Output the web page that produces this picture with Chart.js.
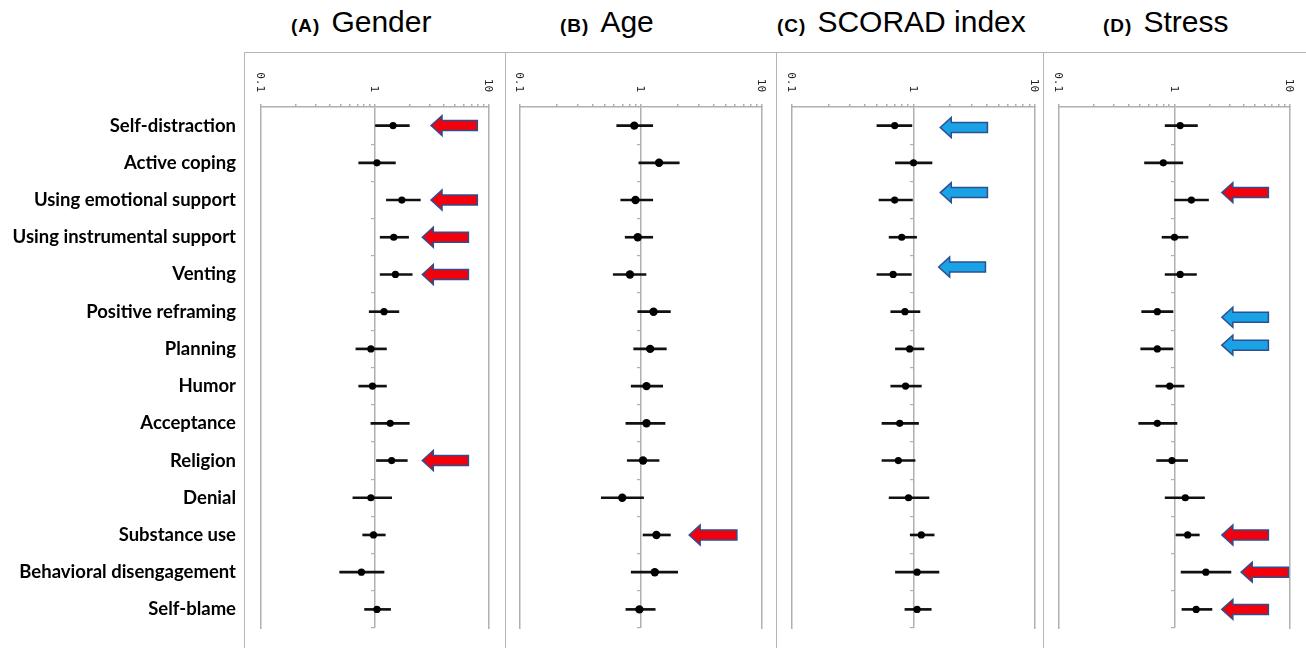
<!DOCTYPE html>
<html>
<head>
<meta charset="utf-8">
<script src="https://cdn.jsdelivr.net/npm/chart.js@4"></script>
<style>
  html, body { margin: 0; padding: 0; background: #fff; }
  body { width: 1306px; height: 648px; position: relative; overflow: hidden; }
  .frame { position: absolute; top: 52px; height: 596px; border-left: 1.5px solid #b5b5b5; border-top: 1.5px solid #b5b5b5; box-sizing: border-box; }
  .cv { position: absolute; top: 0; }
  .title { position: absolute; top: 7px; line-height: 30px; font-family: "Liberation Sans", Arial, sans-serif; color: #000; white-space: nowrap; }
  .title b { font-size: 19px; letter-spacing: 1px; margin-right: 11px; }
  .title span { font-size: 30px; }
</style>
</head>
<body>
<div class="frame" style="left:244px;width:261px"></div>
<div class="frame" style="left:505px;width:271px"></div>
<div class="frame" style="left:776px;width:267px"></div>
<div class="frame" style="left:1043px;width:263px"></div>

<div class="title" style="left:291px"><b>(A)</b><span>Gender</span></div>
<div class="title" style="left:560px"><b>(B)</b><span>Age</span></div>
<div class="title" style="left:777px"><b>(C)</b><span>SCORAD index</span></div>
<div class="title" style="left:1103px"><b>(D)</b><span>Stress</span></div>

<canvas id="cA" class="cv" style="left:0px" width="505" height="648"></canvas>
<canvas id="cB" class="cv" style="left:505px" width="271" height="648"></canvas>
<canvas id="cC" class="cv" style="left:776px" width="267" height="648"></canvas>
<canvas id="cD" class="cv" style="left:1043px" width="263" height="648"></canvas>

<script>
const categories = ['Self-distraction', 'Active coping', 'Using emotional support', 'Using instrumental support',
  'Venting', 'Positive reframing', 'Planning', 'Humor', 'Acceptance', 'Religion', 'Denial',
  'Substance use', 'Behavioral disengagement', 'Self-blame'];

const xTickValues = [0.1, 0.2, 0.3, 0.4, 0.5, 0.6, 0.7, 0.8, 0.9, 1, 2, 3, 4, 5, 6, 7, 8, 9, 10];
const xTickLabels = [0.1, 1, 10];

// (A) Gender
const orA = [1.44, 1.04, 1.72, 1.46, 1.51, 1.20, 0.92, 0.95, 1.36, 1.40, 0.92, 0.97, 0.76, 1.04];
const loA = [1.01, 0.72, 1.26, 1.11, 1.11, 0.89, 0.68, 0.72, 0.92, 1.03, 0.64, 0.78, 0.49, 0.81];
const hiA = [2.00, 1.51, 2.50, 1.97, 2.12, 1.62, 1.26, 1.26, 2.00, 1.92, 1.40, 1.23, 1.20, 1.37];

// (B) Age
const orB = [0.88, 1.41, 0.90, 0.94, 0.81, 1.27, 1.19, 1.11, 1.11, 1.04, 0.70, 1.34, 1.30, 0.97];
const loB = [0.63, 0.96, 0.68, 0.74, 0.59, 0.94, 0.87, 0.83, 0.75, 0.77, 0.47, 1.04, 0.83, 0.75];
const hiB = [1.25, 2.07, 1.25, 1.25, 1.10, 1.75, 1.62, 1.51, 1.58, 1.41, 1.05, 1.75, 2.01, 1.31];

// (C) SCORAD index
const orC = [0.70, 1.00, 0.70, 0.80, 0.68, 0.85, 0.93, 0.86, 0.77, 0.75, 0.91, 1.16, 1.07, 1.07];
const loC = [0.50, 0.71, 0.52, 0.63, 0.50, 0.65, 0.71, 0.65, 0.55, 0.55, 0.63, 0.94, 0.71, 0.85];
const hiC = [0.97, 1.42, 0.98, 1.06, 0.96, 1.13, 1.22, 1.16, 1.10, 1.03, 1.34, 1.48, 1.62, 1.40];

// (D) Stress
const orD = [1.12, 0.80, 1.40, 1.00, 1.12, 0.71, 0.71, 0.91, 0.71, 0.95, 1.24, 1.30, 1.87, 1.54];
const loD = [0.83, 0.55, 1.00, 0.78, 0.83, 0.52, 0.51, 0.69, 0.49, 0.70, 0.83, 1.03, 1.14, 1.16];
const hiD = [1.58, 1.18, 1.97, 1.31, 1.55, 0.97, 0.97, 1.21, 1.05, 1.30, 1.82, 1.64, 3.08, 2.11];

// highlight arrows: row, head value, tail value, direction of the association
const arrowRowA = [0, 2, 3, 4, 9];
const arrowFromA = [3.1, 3.1, 2.6, 2.6, 2.6];
const arrowToA = [7.9, 7.9, 6.6, 6.6, 6.6];
const arrowKindA = ['pos', 'pos', 'pos', 'pos', 'pos'];

const arrowRowB = [11];
const arrowFromB = [2.5];
const arrowToB = [6.2];
const arrowKindB = ['pos'];

const arrowRowC = [0.05, 1.8, 3.8];
const arrowFromC = [1.66, 1.66, 1.61];
const arrowToC = [4.06, 4.06, 3.91];
const arrowKindC = ['neg', 'neg', 'neg'];

const arrowRowD = [1.8, 5.15, 5.9, 11, 12, 13];
const arrowFromD = [2.57, 2.57, 2.57, 2.57, 3.78, 2.57];
const arrowToD = [6.5, 6.5, 6.5, 6.5, 9.7, 6.5];
const arrowKindD = ['pos', 'neg', 'neg', 'pos', 'pos', 'pos'];

const GRAY = '#b0b0b0';

function decor(rows, from, to, kind) {
  return {
    id: 'decor',
    afterDatasetsDraw(chart) {
      const {ctx, scales: {x, y}} = chart;
      rows.forEach((row, i) => {
        const xh = x.getPixelForValue(from[i]);
        const xt = x.getPixelForValue(to[i]);
        const yc = y.getPixelForValue(row);
        const head = 11, bh = 5, hh = 10;
        ctx.save();
        ctx.beginPath();
        ctx.moveTo(xh, yc);
        ctx.lineTo(xh + head, yc - hh);
        ctx.lineTo(xh + head, yc - bh);
        ctx.lineTo(xt, yc - bh);
        ctx.lineTo(xt, yc + bh);
        ctx.lineTo(xh + head, yc + bh);
        ctx.lineTo(xh + head, yc + hh);
        ctx.closePath();
        ctx.fillStyle = kind[i] === 'pos' ? '#f2000c' : '#19a3e6';
        ctx.fill();
        ctx.lineWidth = 1.5;
        ctx.strokeStyle = '#2e4f8f';
        ctx.stroke();
        ctx.restore();
      });
    },
    afterDraw(chart) {
      // log tick labels, turned clockwise and ending just above the axis
      const {ctx, scales: {x}} = chart;
      ctx.save();
      ctx.font = '11px "DejaVu Sans Mono", monospace';
      ctx.fillStyle = '#222';
      ctx.textAlign = 'right';
      ctx.textBaseline = 'middle';
      xTickLabels.forEach(v => {
        ctx.save();
        ctx.translate(x.getPixelForValue(v) - 1, x.bottom - 15);
        ctx.rotate(Math.PI / 2);
        ctx.fillText(String(v), 0, 0);
        ctx.restore();
      });
      ctx.restore();
    }
  };
}

function makePanel(id, or, lo, hi, arrows, leftW, rightPad, radius, showLabels) {
  const ctx = document.getElementById(id).getContext('2d');
  return new Chart(ctx, {
    type: 'bar',
    data: {
      labels: categories,
      datasets: [
        {
          type: 'line', indexAxis: 'y', data: or, showLine: false, order: 0,
          pointRadius: radius, pointBackgroundColor: '#000', pointBorderWidth: 0
        },
        {
          type: 'bar', indexAxis: 'y', data: lo.map((v, i) => [v, hi[i]]), order: 1,
          backgroundColor: '#111', barThickness: 2, borderWidth: 0
        }
      ]
    },
    options: {
      indexAxis: 'y',
      responsive: false,
      animation: false,
      layout: { padding: { left: 0, right: rightPad, top: 0, bottom: 20 } },
      plugins: { legend: { display: false }, tooltip: { enabled: false } },
      scales: {
        x: {
          type: 'logarithmic', position: 'top', min: 0.1, max: 10,
          afterBuildTicks: s => { s.ticks = xTickValues.map(v => ({ value: v })); },
          afterFit: s => { s.height = 107; },
          ticks: { display: false },
          border: { color: GRAY, width: 1.5 },
          grid: {
            color: c => (c.tick && c.tick.value === 1 ? GRAY : 'rgba(0,0,0,0)'),
            lineWidth: 1.5, tickColor: GRAY, tickLength: 3
          }
        },
        y: {
          type: 'category', position: 'left', offset: true,
          afterFit: s => { s.width = leftW; },
          ticks: {
            display: showLabels, padding: 0, color: '#000',
            font: { family: 'Lato', weight: 'bold', size: 18.5 }
          },
          border: { color: GRAY, width: 1.5 },
          grid: { drawOnChartArea: false, drawTicks: true, tickLength: 25, tickColor: 'rgba(0,0,0,0)', color: 'rgba(0,0,0,0)' }
        },
        yR: {
          type: 'category', position: 'right', offset: true,
          afterFit: s => { s.width = 0; },
          ticks: { display: false },
          border: { color: GRAY, width: 1.5 },
          grid: { display: false }
        },
        yMid: {
          type: 'category', position: { x: 1 }, offset: true,
          afterFit: s => { s.width = 0; },
          ticks: { display: false },
          border: { display: false },
          grid: { offset: true, drawOnChartArea: false, tickLength: 4, color: GRAY, lineWidth: 1.2 }
        }
      }
    },
    plugins: [decor(arrows[0], arrows[1], arrows[2], arrows[3])]
  });
}

makePanel('cA', orA, loA, hiA, [arrowRowA, arrowFromA, arrowToA, arrowKindA], 261, 505 - 489, 3.6, true);
makePanel('cB', orB, loB, hiB, [arrowRowB, arrowFromB, arrowToB, arrowKindB], 15, 271 - 257, 4.2, false);
makePanel('cC', orC, loC, hiC, [arrowRowC, arrowFromC, arrowToC, arrowKindC], 16, 267 - 259, 3.6, false);
makePanel('cD', orD, loD, hiD, [arrowRowD, arrowFromD, arrowToD, arrowKindD], 16, 263 - 247, 3.6, false);
</script>
</body>
</html>
